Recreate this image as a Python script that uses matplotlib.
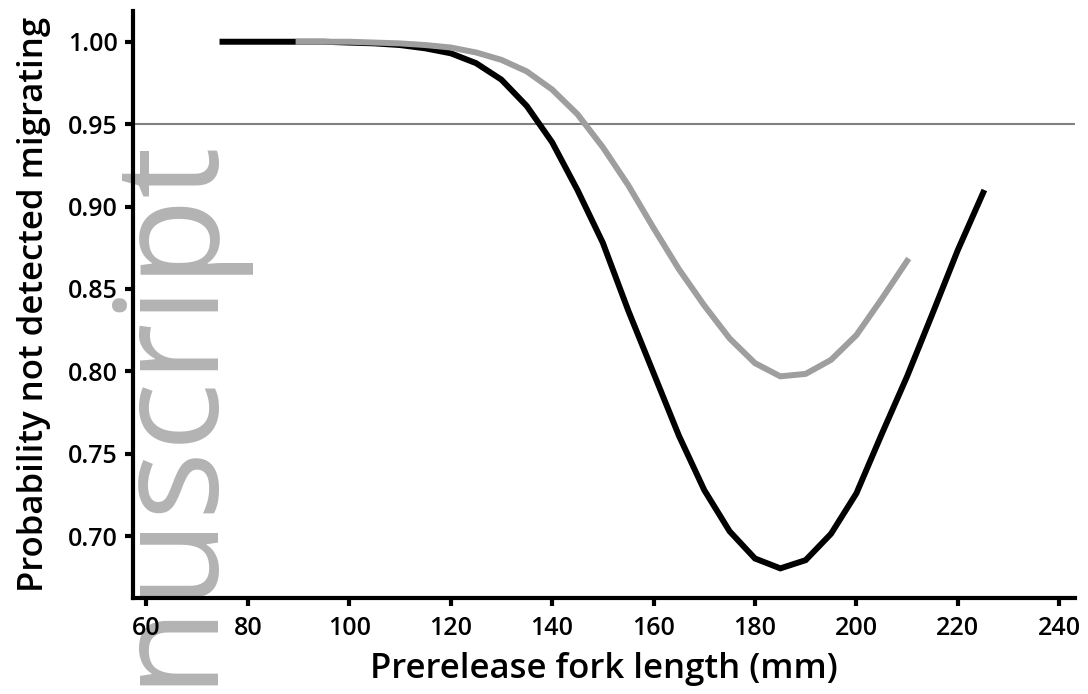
import matplotlib
matplotlib.use("Agg")
import matplotlib.pyplot as plt

# Data
length_black = [75, 80, 85, 90, 95, 100, 105, 110, 115, 120, 125, 130, 135, 140, 145,
                150, 155, 160, 165, 170, 175, 180, 185, 190, 195, 200, 205, 210, 215, 220, 225]
prob_black = [1.000, 1.000, 1.000, 1.000, 1.000, 0.9995, 0.999, 0.998, 0.996, 0.993, 0.987,
              0.977, 0.961, 0.939, 0.910, 0.878, 0.837, 0.799, 0.761, 0.728, 0.703, 0.6865,
              0.6805, 0.6855, 0.7015, 0.726, 0.762, 0.797, 0.835, 0.8736, 0.9084]

length_gray = [90, 95, 100, 105, 110, 115, 120, 125, 130, 135, 140, 145, 150, 155, 160,
               165, 170, 175, 180, 185, 190, 195, 200, 205, 210]
prob_gray = [1.000, 1.000, 1.000, 0.9995, 0.999, 0.998, 0.9965, 0.9935, 0.989, 0.982, 0.971,
             0.956, 0.936, 0.913, 0.887, 0.862, 0.840, 0.820, 0.805, 0.797, 0.7985, 0.807,
             0.822, 0.844, 0.867]

threshold = 0.95
x_ticks = [60, 80, 100, 120, 140, 160, 180, 200, 220, 240]
y_ticks = [0.70, 0.75, 0.80, 0.85, 0.90, 0.95, 1.00]
y_ticklabels = ["0.70", "0.75", "0.80", "0.85", "0.90", "0.95", "1.00"]
x_label = "Prerelease fork length (mm)"
y_label = "Probability not detected migrating"
watermark = "Manuscript"

plt.rcParams['font.family'] = ['Open Sans', 'DejaVu Sans']

fig = plt.figure(figsize=(10.88, 6.94), dpi=100)
ax = fig.add_axes([0.1225, 0.1385, 0.8655, 0.846])
ax.patch.set_facecolor('none')

# watermark behind the axes
fig.text(205 / 1088, 1 - 131 / 694, watermark, rotation=90, rotation_mode='anchor',
         ha='right', va='baseline', fontsize=104, color='#b3b3b3', zorder=-5)

ax.axhline(threshold, color='#808080', lw=1.5, zorder=1)
ax.plot(length_black, prob_black, color='black', lw=4.3, solid_joinstyle='miter', zorder=2)
ax.plot(length_gray, prob_gray, color='#9e9e9e', lw=4.3, solid_joinstyle='miter', zorder=3)

ax.set_xlim(57.4, 243.1)
ax.set_ylim(0.6626, 1.0188)
ax.set_xticks(x_ticks)
ax.set_xticklabels([str(t) for t in x_ticks])
ax.set_yticks(y_ticks)
ax.set_yticklabels(y_ticklabels)

for s in ['top', 'right']:
    ax.spines[s].set_visible(False)
for s in ['left', 'bottom']:
    ax.spines[s].set_linewidth(3.0)
    ax.spines[s].set_color('black')

ax.tick_params(axis='both', direction='out', length=6, width=3, labelsize=18, pad=5)
ax.tick_params(axis='x', pad=7)
for lab in ax.get_xticklabels() + ax.get_yticklabels():
    lab.set_fontweight('semibold')

ax.set_xlabel(x_label, fontsize=25, fontweight='semibold', labelpad=8)
ax.set_ylabel(y_label, fontsize=25, fontweight='semibold', labelpad=12)

fig.savefig("out.png", dpi=100)
